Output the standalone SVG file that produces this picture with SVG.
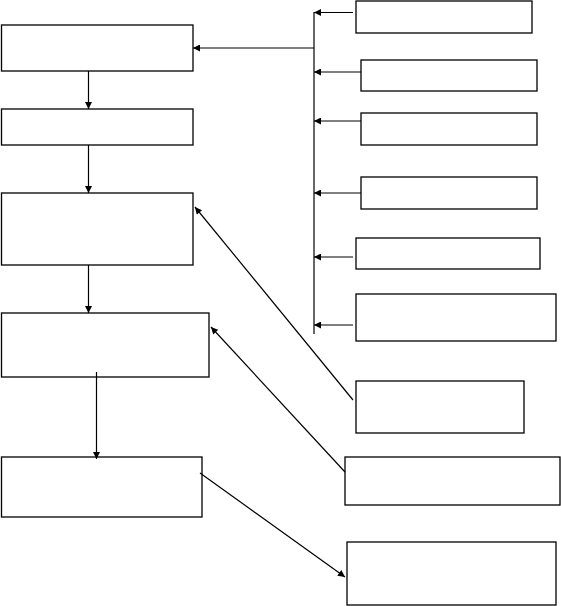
<svg xmlns="http://www.w3.org/2000/svg" width="561" height="606" viewBox="0 0 561 606">
<style>
.box{fill:#fff;stroke:#000;stroke-width:1.3}
.c{fill:none;stroke:#000;stroke-width:1.2}
</style>
<defs>
<marker id="ah" viewBox="0 0 10 10" refX="10" refY="5" markerWidth="8" markerHeight="7" markerUnits="userSpaceOnUse" orient="auto">
<path d="M0,0 L10,5 L0,10 Z" fill="#000"/>
</marker>
</defs>
<rect width="561" height="606" fill="#fff"/>
<g id="L1"><rect class="box" x="1.5" y="25" width="191.5" height="46"/></g>
<g id="L2"><rect class="box" x="1.5" y="109" width="191.5" height="36"/></g>
<g id="L3"><rect class="box" x="1.5" y="193" width="191.5" height="72"/></g>
<g id="L4"><rect class="box" x="1.5" y="313" width="207.5" height="64"/></g>
<g id="L5"><rect class="box" x="1.5" y="457" width="200.5" height="60"/></g>
<g id="R1"><rect class="box" x="356" y="1" width="176" height="32"/></g>
<g id="R2"><rect class="box" x="361" y="60" width="176" height="31"/></g>
<g id="R3"><rect class="box" x="361" y="113" width="176" height="32"/></g>
<g id="R4"><rect class="box" x="361" y="177" width="176" height="32"/></g>
<g id="R5"><rect class="box" x="356" y="238" width="184" height="31"/></g>
<g id="R6"><rect class="box" x="356" y="294" width="200" height="47"/></g>
<g id="R7"><rect class="box" x="356" y="381" width="168" height="52"/></g>
<g id="R8"><rect class="box" x="345" y="457" width="215" height="48"/></g>
<g id="R9"><rect class="box" x="347" y="542" width="209" height="63"/></g>
<g id="connectors">
<line class="c" x1="88.5" y1="71" x2="88.5" y2="109" marker-end="url(#ah)"/>
<line class="c" x1="88.5" y1="145" x2="88.5" y2="193" marker-end="url(#ah)"/>
<line class="c" x1="88.5" y1="265" x2="88.5" y2="313" marker-end="url(#ah)"/>
<line class="c" x1="96.5" y1="372" x2="96.5" y2="459" marker-end="url(#ah)"/>
<line class="c" x1="314" y1="12" x2="314" y2="334"/>
<line class="c" x1="314" y1="48" x2="193" y2="48" marker-end="url(#ah)"/>
<line class="c" x1="353" y1="12.5" x2="314" y2="12.5" marker-end="url(#ah)"/>
<line class="c" x1="361" y1="72" x2="314" y2="72" marker-end="url(#ah)"/>
<line class="c" x1="361" y1="121" x2="314" y2="121" marker-end="url(#ah)"/>
<line class="c" x1="361" y1="193" x2="314" y2="193" marker-end="url(#ah)"/>
<line class="c" x1="353" y1="257" x2="314" y2="257" marker-end="url(#ah)"/>
<line class="c" x1="353" y1="325" x2="314" y2="325" marker-end="url(#ah)"/>
<line class="c" x1="353" y1="400" x2="195" y2="207" marker-end="url(#ah)"/>
<line class="c" x1="345" y1="472" x2="211" y2="327" marker-end="url(#ah)"/>
<line class="c" x1="200" y1="473" x2="345" y2="577" marker-end="url(#ah)"/>
</g>
</svg>
